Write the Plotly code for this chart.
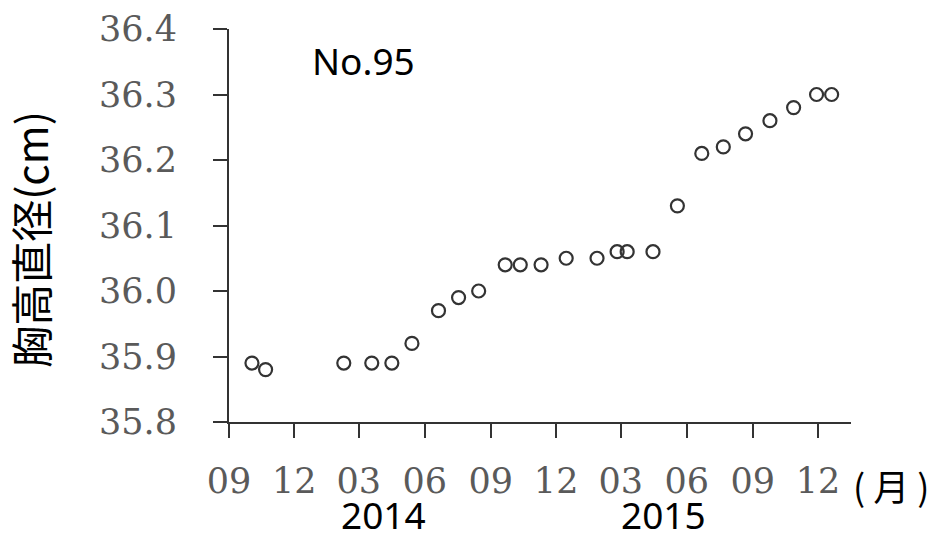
import plotly.graph_objects as go

# Measurement dates and trunk diameter at breast height (cm) for tree No.95
dates = [
    "2013-10-03", "2013-10-22", "2014-02-08", "2014-03-19", "2014-04-16",
    "2014-05-14", "2014-06-20", "2014-07-18", "2014-08-15", "2014-09-21",
    "2014-10-12", "2014-11-10", "2014-12-15", "2015-01-27", "2015-02-24",
    "2015-03-10", "2015-04-15", "2015-05-19", "2015-06-22", "2015-07-22",
    "2015-08-22", "2015-09-25", "2015-10-28", "2015-11-29", "2015-12-20",
]
dbh = [
    35.89, 35.88, 35.89, 35.89, 35.89,
    35.92, 35.97, 35.99, 36.00, 36.04,
    36.04, 36.04, 36.05, 36.05, 36.06,
    36.06, 36.06, 36.13, 36.21, 36.22,
    36.24, 36.26, 36.28, 36.30, 36.30,
]

tick_dates = [
    "2013-09-01", "2013-12-01", "2014-03-01", "2014-06-01", "2014-09-01",
    "2014-12-01", "2015-03-01", "2015-06-01", "2015-09-01", "2015-12-01",
]
tick_text = ["09", "12", "03", "06", "09", "12", "03", "06", "09", "12"]
y_ticks = [35.8, 35.9, 36.0, 36.1, 36.2, 36.3, 36.4]
y_text = ["35.8", "35.9", "36.0", "36.1", "36.2", "36.3", "36.4"]

axis_color = "#333333"
tick_font = dict(family="DejaVu Serif", size=35, color="#5a5a5a")
label_font = dict(family="Noto Sans", size=37, color="black")

fig = go.Figure()
fig.add_trace(go.Scatter(
    x=dates, y=dbh, mode="markers",
    marker=dict(symbol="circle-open", size=13, color="#333333",
                line=dict(width=2.2, color="#333333")),
    showlegend=False,
))

fig.update_layout(
    width=936, height=536,
    margin=dict(l=229, r=85, t=29, b=114),
    paper_bgcolor="white", plot_bgcolor="white",
    xaxis=dict(
        type="date", range=["2013-09-01", "2016-01-16"],
        tickmode="array", tickvals=tick_dates, ticktext=tick_text,
        showline=True, linecolor=axis_color, linewidth=2,
        ticks="outside", ticklen=14, tickwidth=2, tickcolor=axis_color,
        showgrid=False, zeroline=False, tickfont=tick_font,
        ticklabelstandoff=13, automargin=False,
    ),
    yaxis=dict(
        range=[35.8, 36.4],
        tickmode="array", tickvals=y_ticks, ticktext=y_text,
        showline=True, linecolor=axis_color, linewidth=2,
        ticks="outside", ticklen=14, tickwidth=2, tickcolor=axis_color,
        showgrid=False, zeroline=False, tickfont=tick_font,
        ticklabelstandoff=29, automargin=False,
    ),
    annotations=[
        dict(text="No.95", xref="paper", yref="paper", x=0.217, y=0.921,
             xanchor="center", yanchor="middle", showarrow=False, font=label_font),
        dict(text="2014", xref="paper", yref="paper", x=0.249, y=-0.236,
             xanchor="center", yanchor="middle", showarrow=False, font=label_font),
        dict(text="2015", xref="paper", yref="paper", x=0.699, y=-0.236,
             xanchor="center", yanchor="middle", showarrow=False, font=label_font),
        dict(text="( 月 )", xref="paper", yref="paper", x=1.064, y=-0.160,
             xanchor="center", yanchor="middle", showarrow=False,
             font=dict(family="Noto Sans CJK JP", size=36, color="black")),
        dict(text="胸高直径(cm)", xref="paper", yref="paper", x=-0.320, y=0.466,
             xanchor="center", yanchor="middle", textangle=-90, showarrow=False,
             font=dict(family="Noto Sans CJK JP", size=42, color="black")),
    ],
)

fig.write_html("out.html")
